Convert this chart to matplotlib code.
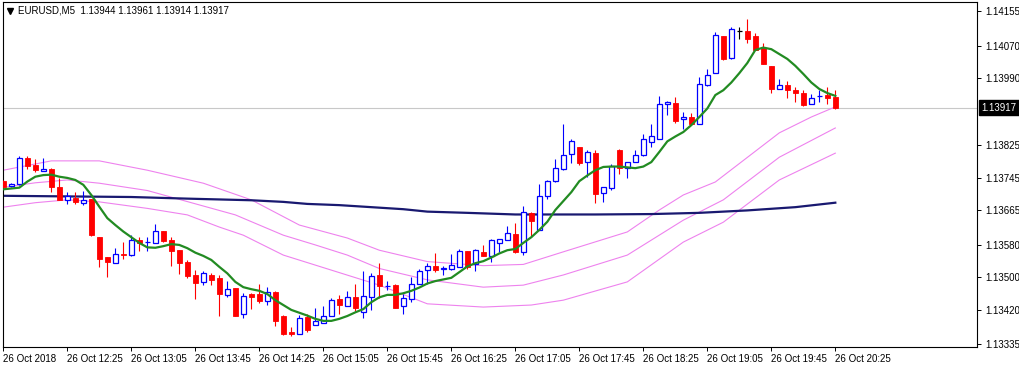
import matplotlib
matplotlib.use("Agg")
import matplotlib.pyplot as plt
import matplotlib.transforms as mtransforms

plt.rcParams['font.family'] = ['Liberation Sans', 'DejaVu Sans']

# ---------------- data ----------------
symbol_title = "EURUSD,M5  1.13944 1.13961 1.13914 1.13917"

opens = [1.13736, 1.13724, 1.13728, 1.13792, 1.13775, 1.13762, 1.13765, 1.13721, 1.13690, 1.13695,
         1.13683, 1.13692, 1.13598, 1.13549, 1.13535, 1.13557, 1.13553, 1.13591, 1.13585, 1.13584,
         1.13613, 1.13590, 1.13566, 1.13537, 1.13505, 1.13488, 1.13505, 1.13497, 1.13456, 1.13473,
         1.13410, 1.13458, 1.13458, 1.13440, 1.13463, 1.13404, 1.13365, 1.13360, 1.13401, 1.13381,
         1.13387, 1.13403, 1.13446, 1.13428, 1.13451, 1.13415, 1.13452, 1.13505, 1.13478, 1.13480,
         1.13428, 1.13445, 1.13484, 1.13518, 1.13527, 1.13520, 1.13520, 1.13525, 1.13564, 1.13531,
         1.13561, 1.13552, 1.13583, 1.13590, 1.13605, 1.13561, 1.13658, 1.13615, 1.13699, 1.13736,
         1.13767, 1.13802, 1.13819, 1.13782, 1.13805, 1.13707, 1.13718, 1.13812, 1.13768, 1.13782,
         1.13800, 1.13832, 1.13839, 1.13925, 1.13928, 1.13888, 1.13893, 1.13878, 1.13974, 1.14003,
         1.14093, 1.14040, 1.14106, 1.14107, 1.14093, 1.14063, 1.14019, 1.13962, 1.13973, 1.13960,
         1.13952, 1.13925, 1.13945, 1.13949, 1.13944]
highs = [1.13739, 1.13732, 1.13798, 1.13798, 1.13790, 1.13792, 1.13768, 1.13745, 1.13709, 1.13709,
         1.13711, 1.13693, 1.13599, 1.13550, 1.13571, 1.13586, 1.13603, 1.13598, 1.13598, 1.13630,
         1.13614, 1.13598, 1.13567, 1.13542, 1.13517, 1.13516, 1.13510, 1.13505, 1.13490, 1.13474,
         1.13460, 1.13461, 1.13483, 1.13476, 1.13466, 1.13406, 1.13377, 1.13406, 1.13408, 1.13423,
         1.13429, 1.13448, 1.13456, 1.13466, 1.13483, 1.13515, 1.13510, 1.13534, 1.13490, 1.13484,
         1.13458, 1.13501, 1.13520, 1.13534, 1.13559, 1.13527, 1.13557, 1.13569, 1.13565, 1.13568,
         1.13579, 1.13594, 1.13594, 1.13626, 1.13633, 1.13675, 1.13659, 1.13729, 1.13740, 1.13791,
         1.13876, 1.13839, 1.13820, 1.13812, 1.13813, 1.13721, 1.13778, 1.13814, 1.13783, 1.13813,
         1.13852, 1.13878, 1.13946, 1.13933, 1.13944, 1.13907, 1.13903, 1.13992, 1.14011, 1.14103,
         1.14094, 1.14116, 1.14115, 1.14135, 1.14100, 1.14077, 1.14020, 1.13988, 1.13983, 1.13968,
         1.13960, 1.13951, 1.13961, 1.13967, 1.13961]
lows = [1.13719, 1.13721, 1.13727, 1.13766, 1.13759, 1.13761, 1.13710, 1.13689, 1.13680, 1.13680,
        1.13677, 1.13602, 1.13525, 1.13501, 1.13534, 1.13545, 1.13552, 1.13565, 1.13565, 1.13584,
        1.13585, 1.13528, 1.13507, 1.13498, 1.13447, 1.13480, 1.13480, 1.13405, 1.13451, 1.13404,
        1.13400, 1.13422, 1.13437, 1.13431, 1.13380, 1.13357, 1.13355, 1.13360, 1.13365, 1.13381,
        1.13387, 1.13403, 1.13409, 1.13428, 1.13416, 1.13400, 1.13419, 1.13449, 1.13467, 1.13424,
        1.13410, 1.13439, 1.13484, 1.13483, 1.13513, 1.13505, 1.13518, 1.13525, 1.13520, 1.13516,
        1.13552, 1.13538, 1.13562, 1.13590, 1.13560, 1.13554, 1.13598, 1.13615, 1.13691, 1.13735,
        1.13763, 1.13781, 1.13776, 1.13747, 1.13683, 1.13685, 1.13714, 1.13754, 1.13745, 1.13782,
        1.13798, 1.13821, 1.13839, 1.13898, 1.13880, 1.13865, 1.13877, 1.13878, 1.13971, 1.14003,
        1.14034, 1.14038, 1.14087, 1.14077, 1.14059, 1.14024, 1.13954, 1.13962, 1.13942, 1.13931,
        1.13921, 1.13925, 1.13931, 1.13926, 1.13914]
closes = [1.13722, 1.13729, 1.13792, 1.13774, 1.13764, 1.13766, 1.13722, 1.13690, 1.13700, 1.13685,
          1.13690, 1.13603, 1.13545, 1.13537, 1.13556, 1.13554, 1.13591, 1.13583, 1.13586, 1.13613,
          1.13589, 1.13565, 1.13535, 1.13503, 1.13486, 1.13509, 1.13493, 1.13458, 1.13470, 1.13405,
          1.13453, 1.13451, 1.13442, 1.13462, 1.13392, 1.13360, 1.13360, 1.13398, 1.13369, 1.13391,
          1.13403, 1.13443, 1.13432, 1.13452, 1.13424, 1.13453, 1.13502, 1.13478, 1.13479, 1.13424,
          1.13448, 1.13484, 1.13514, 1.13526, 1.13518, 1.13521, 1.13529, 1.13564, 1.13525, 1.13566,
          1.13552, 1.13591, 1.13594, 1.13608, 1.13562, 1.13659, 1.13639, 1.13699, 1.13736, 1.13768,
          1.13800, 1.13834, 1.13781, 1.13808, 1.13704, 1.13721, 1.13773, 1.13768, 1.13782, 1.13801,
          1.13839, 1.13848, 1.13925, 1.13931, 1.13884, 1.13893, 1.13878, 1.13975, 1.13997, 1.14096,
          1.14037, 1.14110, 1.14106, 1.14087, 1.14059, 1.14025, 1.13964, 1.13972, 1.13961, 1.13952,
          1.13923, 1.13942, 1.13946, 1.13942, 1.13917]

# fast moving average (green), one value per bar
ma_fast = [1.13716, 1.13718, 1.13720, 1.13735, 1.13747, 1.13751, 1.13752, 1.13747, 1.13744, 1.13739,
           1.13727, 1.13702, 1.13673, 1.13645, 1.13628, 1.13612, 1.13598, 1.13584, 1.13573, 1.13572,
           1.13576, 1.13581, 1.13579, 1.13571, 1.13560, 1.13552, 1.13542, 1.13525, 1.13509, 1.13488,
           1.13475, 1.13470, 1.13466, 1.13458, 1.13443, 1.13431, 1.13419, 1.13412, 1.13405, 1.13397,
           1.13392, 1.13392, 1.13397, 1.13404, 1.13413, 1.13421, 1.13438, 1.13450, 1.13456, 1.13456,
           1.13460, 1.13466, 1.13474, 1.13484, 1.13490, 1.13494, 1.13498, 1.13512, 1.13526, 1.13534,
           1.13539, 1.13548, 1.13558, 1.13566, 1.13569, 1.13584, 1.13598, 1.13616, 1.13636, 1.13665,
           1.13687, 1.13709, 1.13736, 1.13750, 1.13763, 1.13771, 1.13772, 1.13772, 1.13770, 1.13768,
           1.13772, 1.13783, 1.13808, 1.13834, 1.13846, 1.13857, 1.13874, 1.13894, 1.13915, 1.13948,
           1.13960, 1.13979, 1.14002, 1.14027, 1.14059, 1.14065, 1.14061, 1.14049, 1.14037, 1.14020,
           1.14000, 1.13979, 1.13963, 1.13953, 1.13946]

# slow moving average (navy), read at these bars
slow_bars = [0, 16, 23, 31, 35, 38, 42, 46, 50, 53, 58, 64, 74, 81, 87, 93, 99, 104]
ma_slow = [1.13700, 1.13697, 1.13693, 1.13689, 1.13685, 1.13680, 1.13677, 1.13672, 1.13667, 1.13661,
           1.13658, 1.13654, 1.13654, 1.13655, 1.13658, 1.13664, 1.13672, 1.13683]

# three violet band lines
band_top_bars = [0, 6, 12, 18, 25, 31, 37, 43, 47, 53, 60, 65, 70, 78, 82, 85, 89, 97, 101, 104]
band_top = [1.13763, 1.13786, 1.13786, 1.13763, 1.13731, 1.13690, 1.13628, 1.13596, 1.13566, 1.13538,
            1.13528, 1.13531, 1.13562, 1.13611, 1.13665, 1.13702, 1.13734, 1.13855, 1.13894, 1.13919]
band_mid_bars = [0, 4, 8, 12, 18, 29, 35, 39, 43, 47, 53, 60, 65, 70, 78, 85, 90, 97, 104]
band_mid = [1.13721, 1.13732, 1.13739, 1.13731, 1.13713, 1.13653, 1.13603, 1.13579, 1.13554, 1.13521,
            1.13493, 1.13475, 1.13480, 1.13505, 1.13554, 1.13640, 1.13690, 1.13795, 1.13867]
band_low_bars = [0, 4, 8, 12, 18, 23, 27, 30, 35, 47, 53, 60, 66, 70, 78, 85, 90, 97, 104]
band_low = [1.13672, 1.13683, 1.13690, 1.13685, 1.13669, 1.13653, 1.13623, 1.13603, 1.13554, 1.13480,
            1.13434, 1.13426, 1.13431, 1.13443, 1.13488, 1.13586, 1.13635, 1.13739, 1.13805]

time_labels = ["26 Oct 2018", "26 Oct 12:25", "26 Oct 13:05", "26 Oct 13:45", "26 Oct 14:25",
               "26 Oct 15:05", "26 Oct 15:45", "26 Oct 16:25", "26 Oct 17:05", "26 Oct 17:45",
               "26 Oct 18:25", "26 Oct 19:05", "26 Oct 19:45", "26 Oct 20:25"]
label_every = 8
price_ticks = [1.13335, 1.13420, 1.13500, 1.13580, 1.13665, 1.13745, 1.13825,
               1.13990, 1.14070, 1.14155]

# ---------------- figure ----------------
W, H = 1020, 368
fig = plt.figure(figsize=(W / 100, H / 100), dpi=100)
ax = fig.add_axes([3 / W, (H - 346.7) / H, (977 - 3) / W, (346.7 - 2) / H])

n = len(closes)
xs = list(range(n))
body_w = 0.62

bull_x, bull_b, bull_h = [], [], []
bear_x, bear_b, bear_h = [], [], []
doji_x, doji_y = [], []
wick_col = []
for i in range(n):
    o, c = opens[i], closes[i]
    if c > o:
        bull_x.append(i); bull_b.append(o); bull_h.append(c - o); wick_col.append('#0000FF')
    elif c < o:
        bear_x.append(i); bear_b.append(c); bear_h.append(o - c); wick_col.append('#FF0000')
    else:
        doji_x.append(i); doji_y.append(o); wick_col.append('#000000')

# indicators
ax.plot(band_top_bars, band_top, color='#EE82EE', lw=0.8, zorder=1)
ax.plot(band_mid_bars, band_mid, color='#EE82EE', lw=0.8, zorder=1)
ax.plot(band_low_bars, band_low, color='#EE82EE', lw=0.8, zorder=1)
ax.plot(slow_bars, ma_slow, color='#191970', lw=1.6, zorder=2)

# current price line
ax.axhline(closes[-1], color='#C8C8C8', lw=0.8, zorder=0)

# candles
ax.vlines(xs, lows, highs, colors=wick_col, lw=0.8, zorder=3)
ax.bar(bull_x, bull_h, bottom=bull_b, width=body_w, facecolor='white',
       edgecolor='#0000FF', linewidth=0.9, zorder=4)
ax.bar(bear_x, bear_h, bottom=bear_b, width=body_w, facecolor='#FF0000',
       edgecolor='#FF0000', linewidth=0.6, zorder=4)
ax.hlines(doji_y, [x - body_w / 2 for x in doji_x], [x + body_w / 2 for x in doji_x],
          colors='#000000', lw=0.9, zorder=4)

ax.plot(xs, ma_fast, color='#228B22', lw=1.6, zorder=5)

# axes limits / ticks
ax.set_xlim(-0.04, 121.71)
ax.set_ylim(1.133284, 1.141772)

ax.yaxis.tick_right()
ax.set_yticks(price_ticks)
ax.set_yticklabels([f"{v:.5f}" for v in price_ticks])
ax.tick_params(axis='y', direction='out', length=3, width=0.7, labelsize=7, pad=3,
               colors='black')

tick_pos = list(range(0, n, label_every))
ax.set_xticks(tick_pos)
ax.set_xticklabels(time_labels, ha='left')
ax.tick_params(axis='x', direction='out', length=3, width=0.7, labelsize=7, pad=2)

for s in ax.spines.values():
    s.set_linewidth(0.8)
    s.set_color('black')

# current price tag
trans = mtransforms.blended_transform_factory(ax.transAxes, ax.transData)
ax.text(1.0045, closes[-1], f"{closes[-1]:.5f}", transform=trans, color='white',
        fontsize=7, va='center', ha='left', zorder=10, clip_on=False,
        bbox=dict(facecolor='black', edgecolor='black', boxstyle='square,pad=0.25'))

# header
ax.plot([0.0068], [0.9745], marker='v', color='black', markersize=4,
        transform=ax.transAxes, clip_on=False)
ax.text(0.0155, 0.974, symbol_title, transform=ax.transAxes, fontsize=7,
        va='center', ha='left', color='black')

fig.savefig("out.png", dpi=100)
